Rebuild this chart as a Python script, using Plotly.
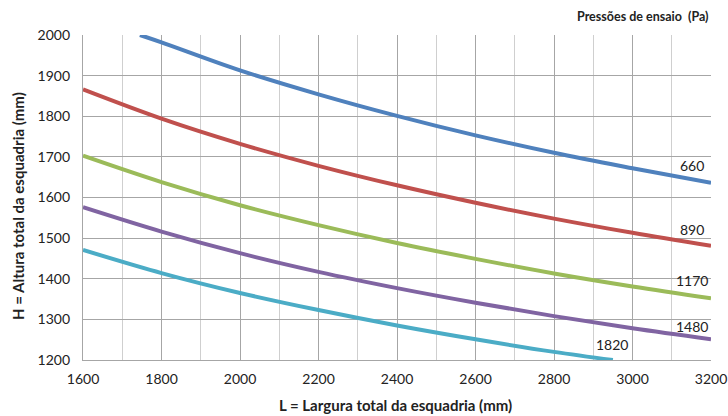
import plotly.graph_objects as go

# Data
L_660 = [1745, 1800, 2000, 2200, 2400, 2600, 2800, 3000, 3200]
H_660 = [2000, 1982, 1913, 1854, 1801, 1753, 1710, 1672, 1636]

L_std = [1600, 1800, 2000, 2200, 2400, 2600, 2800, 3000, 3200]
H_890 = [1866, 1794, 1732, 1678, 1630, 1587, 1548, 1513, 1481]
H_1170 = [1703, 1638, 1581, 1532, 1488, 1449, 1413, 1381, 1352]
H_1480 = [1576, 1516, 1463, 1417, 1377, 1341, 1308, 1278, 1251]

L_1820 = [1600, 1800, 2000, 2200, 2400, 2600, 2800, 2950]
H_1820 = [1471, 1414, 1365, 1323, 1285, 1251, 1220, 1200]

series = [
    ("660", L_660, H_660, "#4F81BD"),
    ("890", L_std, H_890, "#C0504D"),
    ("1170", L_std, H_1170, "#9BBB59"),
    ("1480", L_std, H_1480, "#8064A2"),
    ("1820", L_1820, H_1820, "#4BACC6"),
]

label_pos = {"660": (3151, 1680), "890": (3151, 1522), "1170": (3151, 1396),
             "1480": (3151, 1283), "1820": (2948, 1237)}

FONT = "Lato, Liberation Sans, sans-serif"
TXT = "#222222"

fig = go.Figure()
for name, xs, ys, col in series:
    fig.add_trace(go.Scatter(x=xs, y=ys, mode="lines", name=name,
                             line=dict(color=col, width=4, shape="spline"),
                             showlegend=False, cliponaxis=True))
    lx, ly = label_pos[name]
    fig.add_annotation(x=lx, y=ly, text=name, showarrow=False,
                       font=dict(size=14, color=TXT, family=FONT))

fig.add_annotation(xref="paper", yref="paper", x=1.0, y=1.0, yshift=19,
                   xanchor="right", yanchor="middle", showarrow=False,
                   text="<b>Pressões de ensaio  (Pa)</b>",
                   font=dict(size=12.5, color=TXT, family=FONT))

# Axis titles
fig.add_annotation(xref="paper", yref="paper", x=0.498, y=0, yshift=-45,
                   xanchor="center", yanchor="middle", showarrow=False,
                   text="<b>L = Largura total da esquadria (mm)</b>",
                   font=dict(size=15, color=TXT, family=FONT))
fig.add_annotation(xref="paper", yref="paper", x=0, xshift=-65, y=0.474,
                   xanchor="center", yanchor="middle", showarrow=False, textangle=-90,
                   text="<b>H = Altura total da esquadria (mm)</b>",
                   font=dict(size=15, color=TXT, family=FONT))

fig.update_layout(
    width=728, height=416,
    margin=dict(l=83, r=17, t=35, b=56, autoexpand=False),
    paper_bgcolor="white", plot_bgcolor="white",
    font=dict(family=FONT, size=14, color=TXT),
    xaxis=dict(range=[1600, 3200], dtick=200, tick0=1600, automargin=False,
               showgrid=True, gridcolor="#A6A6A6", gridwidth=1.3,
               minor=dict(dtick=100, showgrid=True, gridcolor="#CFCFCF", gridwidth=1.3),
               showline=True, linecolor="#A6A6A6", linewidth=1.3,
               zeroline=False, ticks="", ticklabelstandoff=6),
    yaxis=dict(range=[1200, 2000], dtick=100, automargin=False,
               showgrid=True, gridcolor="#A6A6A6", gridwidth=1.3,
               showline=True, linecolor="#A6A6A6", linewidth=1.3,
               zeroline=False, ticks="", ticklabelstandoff=9),
)

# Remove the default 8px page margin so the figure fills the window exactly
fig.write_html("out.html", config={"displayModeBar": False},
               post_script="document.body.style.margin='0';document.body.style.overflow='hidden';")
